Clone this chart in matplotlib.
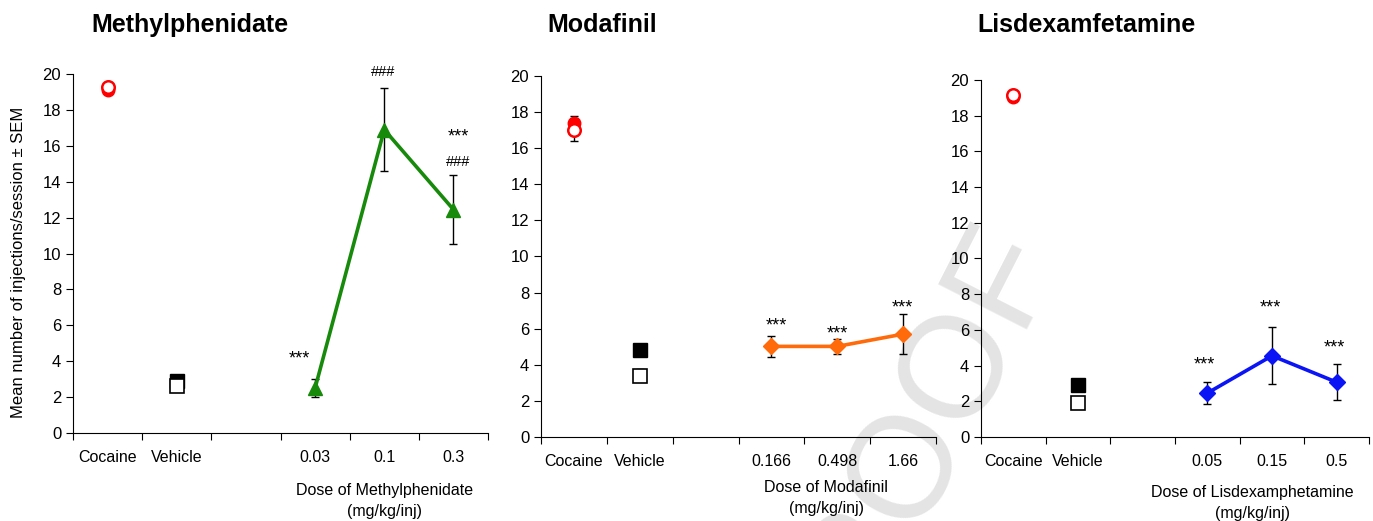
import numpy as np
import matplotlib
matplotlib.use('Agg')
import matplotlib.pyplot as plt

plt.rcParams['font.family'] = ['Liberation Sans', 'DejaVu Sans']

# category labels on the x axis
cat_labels = ['Cocaine', 'Vehicle']
titles = ['Methylphenidate', 'Modafinil', 'Lisdexamfetamine']
dose_labels = [['0.03', '0.1', '0.3'],
               ['0.166', '0.498', '1.66'],
               ['0.05', '0.15', '0.5']]
xlabels = ['Dose of Methylphenidate\n(mg/kg/inj)',
           'Dose of Modafinil\n(mg/kg/inj)',
           'Dose of Lisdexamphetamine\n(mg/kg/inj)']

# cocaine baseline (filled = first, open = second), mean and sem
coc_filled = [19.1, 17.4, 19.05]
coc_filled_err = [0.1, 0.4, 0.1]
coc_open = [19.25, 17.0, 19.15]
coc_open_err = [0.1, 0.6, 0.1]

# vehicle
veh_filled = [2.9, 4.8, 2.9]
veh_filled_err = [0.2, 0.2, 0.2]
veh_open = [2.6, 3.4, 1.9]
veh_open_err = [0.3, 0.35, 0.2]

# dose-response means and errors
dose_means = [[2.5, 16.9, 12.45],
              [5.02, 5.02, 5.7],
              [2.46, 4.55, 3.07]]
dose_err = [[0.5, 2.3, 1.9],
            [0.6, 0.4, 1.1],
            [0.6, 1.6, 1.0]]

# significance marks: (dose index, x shift, baseline y, text)
marks = [[(0, -0.22, 3.85, '***'), (1, -0.02, 19.9, '###'),
          (2, 0.07, 16.25, '***'), (2, 0.07, 14.9, '###')],
         [(0, 0.07, 5.9, '***'), (1, 0.0, 5.45, '***'), (2, -0.01, 6.9, '***')],
         [(0, -0.04, 3.8, '***'), (1, -0.02, 7.0, '***'), (2, -0.03, 4.75, '***')]]

line_colors = ['#178a0c', '#ff6a0a', '#0a14f5']
line_markers = ['^', 'D', 'D']
line_msize = [10, 8, 8]

axes_pos = [[73, 488, 74, 433], [541, 936, 76, 437], [981, 1369, 80, 437]]
title_x = [91, 547, 977]
xlabel_x = [4.5, 4.33, 4.2]
xlabel_off = [50.5, 43.5, 48.5]   # px below the x axis

W, H = 1373, 521
fig = plt.figure(figsize=(W / 100, H / 100), dpi=100)

# watermark behind everything
fig.text(905 / W, 1 - 462 / H, 'PROOF', fontsize=104, color='#e4e4e4',
         rotation=63, ha='center', va='center', zorder=0)

cat_x = [0.5, 1.5]
dose_x = [3.5, 4.5, 5.5]
ebkw = dict(ecolor='black', elinewidth=1, capsize=3, capthick=1, ls='none')

for i in range(3):
    l, r, t, b = axes_pos[i]
    ax = fig.add_axes([l / W, 1 - b / H, (r - l) / W, (b - t) / H], zorder=2)
    ax.patch.set_alpha(0)
    ax.set_xlim(0, 6)
    ax.set_ylim(0, 20)
    for s in ['top', 'right']:
        ax.spines[s].set_visible(False)
    ax.set_yticks(np.arange(0, 21, 2))
    ax.set_xticks(np.arange(0, 7, 1))
    ax.set_xticklabels([])
    ax.set_xticks(cat_x + dose_x, minor=True)
    ax.set_xticklabels(cat_labels + dose_labels[i], minor=True)
    ax.tick_params(axis='x', which='minor', length=0, pad=12, labelsize=11.5)
    ax.tick_params(axis='x', which='major', length=5, direction='out')
    ax.tick_params(axis='y', length=5, labelsize=12)

    # cocaine
    ax.errorbar(cat_x[0], coc_filled[i], yerr=[[0], [coc_filled_err[i]]], **ebkw)
    ax.errorbar(cat_x[0], coc_open[i], yerr=[[coc_open_err[i]], [0]], **ebkw)
    ax.plot(cat_x[0], coc_filled[i], 'o', color='red', ms=9)
    ax.plot(cat_x[0], coc_open[i], 'o', mfc='white', mec='red', mew=1.8, ms=9)

    # vehicle
    ax.errorbar(cat_x[1], veh_filled[i], yerr=[[0], [veh_filled_err[i]]], **ebkw)
    ax.errorbar(cat_x[1], veh_open[i], yerr=[[0], [veh_open_err[i]]], **ebkw)
    ax.plot(cat_x[1], veh_filled[i], 's', color='black', ms=10)
    ax.plot(cat_x[1], veh_open[i], 's', mfc='white', mec='black', mew=1.2, ms=10)

    # dose response
    ax.errorbar(dose_x, dose_means[i], yerr=dose_err[i], **ebkw, zorder=3)
    ax.plot(dose_x, dose_means[i], '-', marker=line_markers[i], color=line_colors[i],
            lw=2.6, ms=line_msize[i], zorder=4)

    for j, dx, y, s in marks[i]:
        fs = 13 if s == '***' else 10.5
        ax.text(dose_x[j] + dx, y, s, ha='center', va='baseline', fontsize=fs,
                clip_on=False)

    ax.text(xlabel_x[i], -xlabel_off[i] / (b - t), xlabels[i],
            transform=ax.get_xaxis_transform(),
            ha='center', va='top', fontsize=11.5, linespacing=1.45)

    fig.text(title_x[i] / W, 1 - 25 / H, titles[i], fontsize=18, fontweight='bold',
             ha='left', va='center')

    if i == 0:
        ax.set_ylabel('Mean number of injections/session ± SEM', fontsize=12)
        ax.yaxis.set_label_coords(-0.113, 0.476)

fig.savefig('out.png', dpi=100)
